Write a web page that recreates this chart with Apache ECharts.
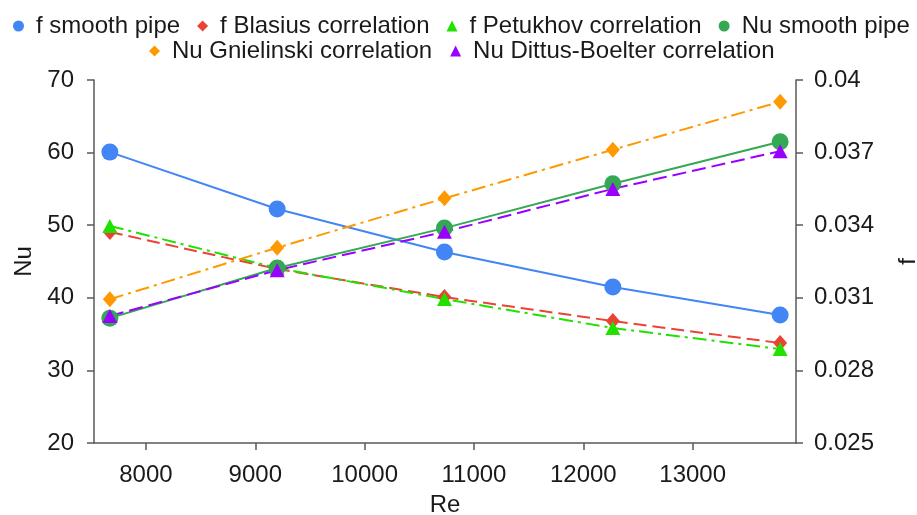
<!DOCTYPE html>
<html>
<head>
<meta charset="utf-8">
<script src="https://cdn.jsdelivr.net/npm/echarts@6/dist/echarts.min.js"></script>
<style>
  html, body { margin: 0; padding: 0; background: #fff; }
  #chart { width: 917px; height: 515px; }
</style>
</head>
<body>
<div id="chart"></div>
<script>
  // Reynolds numbers (x axis)
  var reValues = [7670, 9200, 10730, 12270, 13800]
  var reTicks = [8000, 9000, 10000, 11000, 12000, 13000]

  // friction factor (right axis)
  var fSmooth = [0.03702, 0.03467, 0.03289, 0.03145, 0.03029]
  var fBlasius = [0.03372, 0.03219, 0.03103, 0.03004, 0.02913]
  var fPetukhov = [0.03397, 0.03223, 0.03095, 0.02975, 0.02888]

  // Nusselt number (left axis)
  var nuSmooth = [37.2, 44.1, 49.6, 55.7, 61.5]
  var nuGnielinski = [39.8, 46.9, 53.7, 60.4, 67.0]
  var nuDittus = [37.5, 43.8, 49.1, 55.0, 60.2]

  function pairs(ys) {
    return reValues.map(function (x, i) { return [x, ys[i]] })
  }

  var font = 'Liberation Sans, Arial, sans-serif'
  var axisColor = '#595959'
  var textColor = '#1a1a1a'

  function makeSeries(name, ys, axis, color, symbol, size, lineType) {
    return {
      name: name,
      type: 'line',
      yAxisIndex: axis,
      data: pairs(ys),
      symbol: symbol,
      symbolSize: size,
      showAllSymbol: true,
      color: color,
      itemStyle: { color: color },
      lineStyle: { color: color, width: 2, type: lineType },
      emphasis: { disabled: true },
      animation: false
    }
  }

  var legendText = { fontFamily: font, fontSize: 24, color: textColor, padding: [0, 0, 0, 7] }

  var option = {
    backgroundColor: '#fff',
    legend: [
      {
        top: 14,
        left: 13,
        width: 917,
        padding: 0,
        itemWidth: 11,
        itemHeight: 11,
        itemGap: 17,
        textStyle: legendText,
        data: [
          { name: 'f smooth pipe', icon: 'circle' },
          { name: 'f Blasius correlation', icon: 'diamond' },
          { name: 'f Petukhov correlation', icon: 'triangle' },
          { name: 'Nu smooth pipe', icon: 'circle' }
        ]
      },
      {
        top: 39,
        left: 149,
        width: 917,
        padding: 0,
        itemWidth: 11,
        itemHeight: 11,
        itemGap: 18,
        textStyle: legendText,
        data: [
          { name: 'Nu Gnielinski correlation', icon: 'diamond' },
          { name: 'Nu Dittus-Boelter correlation', icon: 'triangle' }
        ]
      }
    ],
    grid: { left: 94, right: 121, top: 80, bottom: 72, containLabel: false, outerBoundsMode: 'none' },
    xAxis: {
      type: 'value',
      min: 7525,
      max: 13945,
      name: 'Re',
      nameLocation: 'middle',
      nameGap: 50,
      nameTextStyle: { fontFamily: font, fontSize: 24, color: textColor },
      axisLine: { show: true, lineStyle: { color: axisColor, width: 1.5 } },
      axisTick: { show: true, length: 7, customValues: reTicks, lineStyle: { color: axisColor, width: 1.5 } },
      axisLabel: {
        customValues: reTicks,
        margin: 20,
        fontFamily: font,
        fontSize: 24,
        color: textColor,
        formatter: function (v) { return String(v) }
      },
      splitLine: { show: false }
    },
    yAxis: [
      {
        type: 'value',
        min: 20,
        max: 70,
        interval: 10,
        position: 'left',
        name: 'Nu',
        nameLocation: 'middle',
        nameGap: 58,
        nameTextStyle: { fontFamily: font, fontSize: 24, color: textColor },
        axisLine: { show: true, lineStyle: { color: axisColor, width: 1.5 } },
        axisTick: { show: true, length: 7, lineStyle: { color: axisColor, width: 1.5 } },
        axisLabel: { margin: 20, fontFamily: font, fontSize: 24, color: textColor },
        splitLine: { show: false }
      },
      {
        type: 'value',
        min: 0.025,
        max: 0.04,
        interval: 0.003,
        position: 'right',
        name: 'f',
        nameLocation: 'middle',
        nameGap: 100,
        nameTextStyle: { fontFamily: font, fontSize: 24, color: textColor },
        axisLine: { show: true, lineStyle: { color: axisColor, width: 1.5 } },
        axisTick: { show: true, length: 7, lineStyle: { color: axisColor, width: 1.5 } },
        axisLabel: {
          margin: 18,
          fontFamily: font,
          fontSize: 24,
          color: textColor,
          formatter: function (v) { return String(Number(v.toFixed(3))) }
        },
        splitLine: { show: false }
      }
    ],
    series: [
      makeSeries('f smooth pipe', fSmooth, 1, '#4285F4', 'circle', 17, 'solid'),
      makeSeries('f Blasius correlation', fBlasius, 1, '#EA4335', 'diamond', [14, 16], [13, 6]),
      makeSeries('f Petukhov correlation', fPetukhov, 1, '#22E000', 'triangle', [15, 14], [14, 5, 3, 5]),
      makeSeries('Nu smooth pipe', nuSmooth, 0, '#34A853', 'circle', 17, 'solid'),
      makeSeries('Nu Gnielinski correlation', nuGnielinski, 0, '#FF9900', 'diamond', [14, 16], [14, 5, 3, 5]),
      makeSeries('Nu Dittus-Boelter correlation', nuDittus, 0, '#9900FF', 'triangle', [15, 14], [14, 6])
    ]
  }

  var chart = echarts.init(document.getElementById('chart'))
  chart.setOption(option)
  window.addEventListener('resize', function () { chart.resize() })
</script>
</body>
</html>
